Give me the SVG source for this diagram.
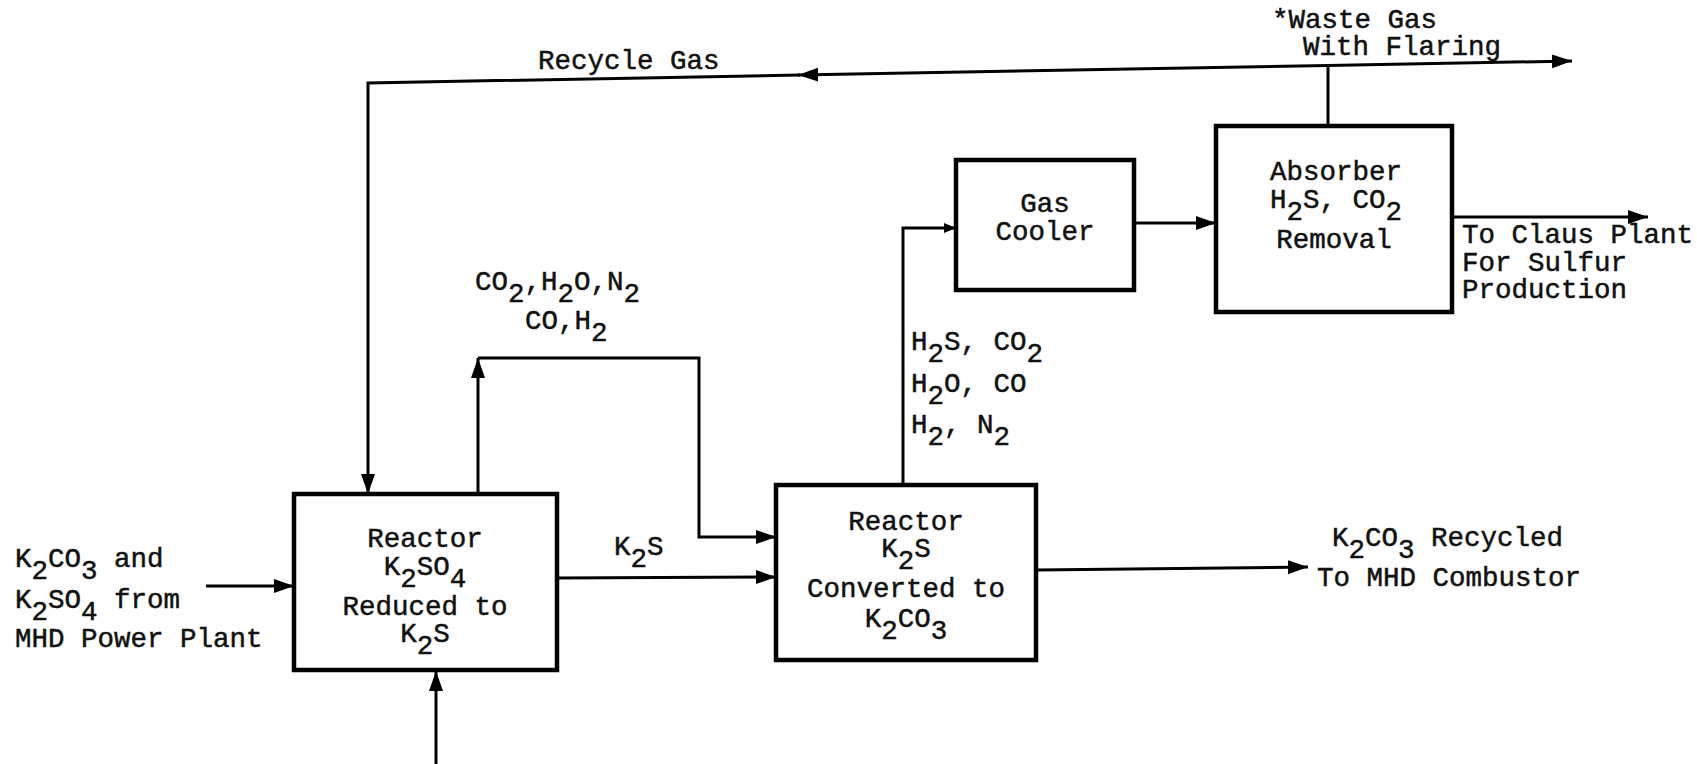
<svg xmlns="http://www.w3.org/2000/svg" width="1697" height="764" viewBox="0 0 1697 764">
<style>
text{font-family:"Liberation Mono","Courier New",monospace;font-size:27.5px;fill:#111;stroke:#111;stroke-width:0.5}
.box{fill:#fff;stroke:#000;stroke-width:4.5}
.ln{fill:none;stroke:#000;stroke-width:3}
.c{text-anchor:middle}
</style>
<defs>
<marker id="ah" markerUnits="userSpaceOnUse" markerWidth="22" markerHeight="16" refX="20" refY="7" orient="auto"><path d="M0,0 L20,7 L0,14 z" fill="#000"/></marker>
<marker id="ahs" markerUnits="userSpaceOnUse" markerWidth="14" markerHeight="12" refX="12" refY="5" orient="auto"><path d="M0,0 L12,5 L0,10 z" fill="#000"/></marker>
</defs>
<rect width="1697" height="764" fill="#fff"/>
<g id="connectors">
<path class="ln" d="M1328,126 L1328,65.5"/>
<path class="ln" d="M1328,65.5 L1572,61" marker-end="url(#ah)"/>
<path class="ln" d="M1328,65.5 L798,75" marker-end="url(#ah)"/>
<path class="ln" d="M800,75 L368,83 L368,494" marker-end="url(#ah)"/>
<path class="ln" d="M206,586 L294,586" marker-end="url(#ah)"/>
<path class="ln" d="M436,764 L436,671" marker-end="url(#ah)"/>
<path class="ln" d="M478,494 L478,358" marker-end="url(#ah)"/>
<path class="ln" d="M478,358 L699,358 L699,537 L776,537" marker-end="url(#ah)"/>
<path class="ln" d="M557,578 L776,577" marker-end="url(#ah)"/>
<path class="ln" d="M1036,570 L1308,567" marker-end="url(#ah)"/>
<path class="ln" d="M903,485 L903,228 L956,228" marker-end="url(#ahs)"/>
<path class="ln" d="M1134,223 L1216,223" marker-end="url(#ah)"/>
<path class="ln" d="M1452,217 L1648,217" marker-end="url(#ah)"/>
</g>
<g id="reactor1">
<rect class="box" x="294" y="494" width="263" height="176"/>
<text class="c" x="425" y="547">Reactor</text>
<text class="c" x="425" y="575">K<tspan dy="12">2</tspan><tspan dy="-12">SO</tspan><tspan dy="12">4</tspan></text>
<text class="c" x="425" y="615">Reduced to</text>
<text class="c" x="425" y="642">K<tspan dy="12">2</tspan><tspan dy="-12">S</tspan></text>
</g>
<g id="reactor2">
<rect class="box" x="776" y="485" width="260" height="175"/>
<text class="c" x="906" y="530">Reactor</text>
<text class="c" x="906" y="557">K<tspan dy="12">2</tspan><tspan dy="-12">S</tspan></text>
<text class="c" x="906" y="597">Converted to</text>
<text class="c" x="906" y="627">K<tspan dy="12">2</tspan><tspan dy="-12">CO</tspan><tspan dy="12">3</tspan></text>
</g>
<g id="gas-cooler">
<rect class="box" x="956" y="160" width="178" height="130"/>
<text class="c" x="1045" y="212">Gas</text>
<text class="c" x="1045" y="240">Cooler</text>
</g>
<g id="absorber">
<rect class="box" x="1216" y="126" width="236" height="186"/>
<text class="c" x="1336" y="180">Absorber</text>
<text class="c" x="1336" y="208">H<tspan dy="12">2</tspan><tspan dy="-12">S, CO</tspan><tspan dy="12">2</tspan></text>
<text class="c" x="1334" y="248">Removal</text>
</g>
<g id="labels">
<text x="538" y="69">Recycle Gas</text>
<text x="1272" y="28">*Waste Gas</text>
<text x="1303" y="55">With Flaring</text>
<text x="15" y="567">K<tspan dy="12">2</tspan><tspan dy="-12">CO</tspan><tspan dy="12">3</tspan><tspan dy="-12"> and</tspan></text>
<text x="15" y="608">K<tspan dy="12">2</tspan><tspan dy="-12">SO</tspan><tspan dy="12">4</tspan><tspan dy="-12"> from</tspan></text>
<text x="15" y="647">MHD Power Plant</text>
<text x="475" y="290">CO<tspan dy="12">2</tspan><tspan dy="-12">,H</tspan><tspan dy="12">2</tspan><tspan dy="-12">O,N</tspan><tspan dy="12">2</tspan></text>
<text x="525" y="329">CO,H<tspan dy="12">2</tspan></text>
<text x="911" y="350">H<tspan dy="12">2</tspan><tspan dy="-12">S, CO</tspan><tspan dy="12">2</tspan></text>
<text x="911" y="392">H<tspan dy="12">2</tspan><tspan dy="-12">O, CO</tspan></text>
<text x="911" y="433">H<tspan dy="12">2</tspan><tspan dy="-12">, N</tspan><tspan dy="12">2</tspan></text>
<text x="614" y="555">K<tspan dy="12">2</tspan><tspan dy="-12">S</tspan></text>
<text x="1332" y="546">K<tspan dy="12">2</tspan><tspan dy="-12">CO</tspan><tspan dy="12">3</tspan><tspan dy="-12"> Recycled</tspan></text>
<text x="1317" y="586">To MHD Combustor</text>
<text x="1462" y="243">To Claus Plant</text>
<text x="1462" y="271">For Sulfur</text>
<text x="1462" y="298">Production</text>
</g>
</svg>
